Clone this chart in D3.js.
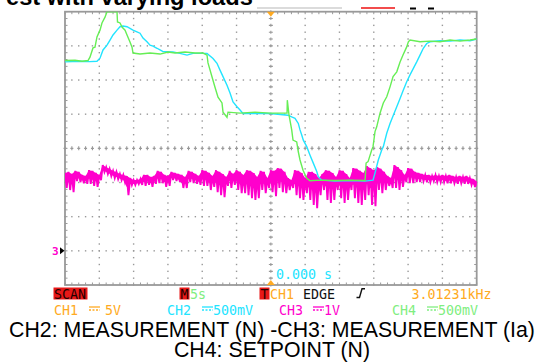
<!DOCTYPE html>
<html>
<head>
<meta charset="utf-8">
<script src="https://cdn.jsdelivr.net/npm/d3@7"></script>
<style>
  body { margin: 0; background: #fff; }
  svg { display: block; }
</style>
</head>
<body>
<svg id="svg" width="537" height="362"></svg>
<script>
// screen is 12 x 8 divisions, 5 s / div, trigger at centre
var timeDomain = [-30, 30];
var divDomain = [-4, 4];

// CH4 setpoint (green), time in s, level in divisions
var ch4Time = [-30, -28.54, -27.52, -26.65, -26.36, -25.92, -25.63, -25.34, -24.9, -24.61, -24.17, -23.88,
  -22.42, -22.35, -21.98, -21.69, -21.25, -20.96, -20.53, -20.23, -20.09, -19.07, -17.61, -16.15, -14.99,
  -13.97, -12.51, -11.05, -9.89, -9.3, -9.16, -8.57, -8.14, -7.7, -7.12, -6.97, -6.39, -6.24, -4.49, -2.31,
  -0.12, 2.36, 2.4, 2.65, 3.04, 3.23, 3.77, 4.0, 4.25, 4.69, 5.23, 5.71, 7.17, 9.35, 11.54, 13.73, 13.88,
  14.17, 14.7, 14.89, 15.18, 15.43, 15.91, 16.39, 16.89, 17.37, 17.81, 18.35, 18.83, 19.26, 19.8, 20.04,
  20.28, 21.74, 23.2, 24.66, 26.11, 27.57, 29.03, 30];
var ch4Level = [2.57, 2.58, 2.55, 2.57, 2.67, 2.94, 2.96, 3.26, 3.46, 3.67, 3.84, 4.0,
  4.0, 3.7, 3.67, 3.55, 3.46, 3.32, 3.11, 2.96, 2.79, 2.76, 2.79, 2.76, 2.82,
  2.79, 2.82, 2.79, 2.79, 2.73, 2.5, 2.09, 1.79, 1.5, 1.33, 1.06, 0.91, 1.06, 1.03, 1.06,
  1.03, 1.03, 1.41, 0.97, 0.54, 0.24, 0.19, -0.1, -0.34, -0.64, -0.88, -0.95, -0.93, -0.94, -0.93, -0.94, -0.43,
  -0.39, -0.05, 0.05, 0.49, 0.63, 1.03, 1.33, 1.51, 1.8, 2.1, 2.24, 2.53, 2.73, 2.97, 3.12,
  3.17, 3.12, 3.14, 3.12, 3.17, 3.14, 3.17, 3.2];

// CH2 measured speed (cyan)
var ch2Time = [-30, -27.81, -26.36, -25.34, -24.9, -24.46, -23.88, -23.44, -23.0, -22.42, -21.98, -21.55,
  -20.96, -20.53, -20.09, -19.51, -19.07, -18.63, -18.05, -17.61, -17.17, -16.59, -16.15, -15.72, -15.13,
  -14.26, -13.24, -12.22, -11.34, -10.32, -9.3, -8.43, -7.85, -7.41, -6.97, -6.39, -5.95, -5.51, -4.93,
  -4.49, -4.06, -2.31, -0.12, 2.5, 3.04, 3.52, 4.0, 4.25, 4.5, 4.73, 5.23, 5.71, 6.2, 6.69, 6.92, 7.41,
  9.35, 11.54, 13.73, 14.89, 15.18, 15.66, 16.16, 16.39, 16.89, 17.37, 17.85, 18.35, 18.83, 19.31, 19.8,
  20.28, 20.77, 21.26, 21.74, 22.22, 22.72, 23.2, 24.66, 26.11, 27.57, 29.03, 30];
var ch2Level = [2.53, 2.55, 2.54, 2.55, 2.64, 2.88, 3.02, 3.17, 3.32, 3.46, 3.56, 3.58,
  3.56, 3.51, 3.46, 3.41, 3.37, 3.23, 3.12, 3.02, 2.99, 2.93, 2.88, 2.83, 2.83,
  2.82, 2.78, 2.73, 2.78, 2.78, 2.78, 2.63, 2.49, 2.29, 2.1, 1.85, 1.62, 1.36, 1.22,
  1.12, 1.02, 1.02, 1.02, 0.97, 0.92, 0.88, 0.73, 0.54, 0.39, 0.24, 0.05, -0.2, -0.44, -0.68, -0.83, -0.93,
  -0.96, -0.94, -0.96, -0.93, -0.72, -0.34, -0.05, 0.05, 0.44, 0.73, 0.97, 1.22, 1.46, 1.71, 1.95,
  2.15, 2.34, 2.53, 2.73, 2.93, 3.07, 3.12, 3.15, 3.14, 3.17, 3.15, 3.2];

// CH3 measured current (magenta), band top / bottom every 0.5 s from -30 s
var ch3Start = -30, ch3Step = 0.5;
var ch3High = [-0.72, -0.69, -0.75, -0.66, -0.69, -0.78, -0.81, -0.64, -0.66, -0.72, -0.78, -0.49, -0.55,
  -0.60, -0.66, -0.69, -0.75, -0.78, -0.81, -0.87, -0.93, -0.93, -0.90, -0.78, -0.78, -0.84, -0.81, -0.66,
  -0.69, -0.78, -0.81, -0.69, -0.72, -0.75, -0.78, -0.84, -0.66, -0.69, -0.75, -0.81, -0.64, -0.66, -0.72,
  -0.81, -0.64, -0.69, -0.75, -0.84, -0.66, -0.75, -0.64, -0.69, -0.78, -0.64, -0.66, -0.72, -0.84, -0.66,
  -0.69, -0.87, -0.64, -0.66, -0.58, -0.60, -0.69, -0.87, -0.93, -0.64, -0.66, -0.72, -0.87, -0.69, -0.69,
  -0.75, -0.87, -0.75, -0.64, -0.66, -0.72, -0.84, -0.64, -0.66, -0.75, -0.87, -0.58, -0.60, -0.66, -0.72,
  -0.52, -0.58, -0.64, -0.55, -0.60, -0.69, -0.81, -0.87, -0.49, -0.55, -0.64, -0.78, -0.58, -0.60, -0.69,
  -0.72, -0.75, -0.78, -0.78, -0.81, -0.78, -0.81, -0.78, -0.81, -0.78, -0.81, -0.84, -0.81, -0.84, -0.81,
  -0.87, -0.90, -0.96];
var ch3Low = [-1.16, -1.22, -1.28, -0.96, -0.99, -1.02, -1.04, -1.04, -1.10, -1.13, -0.93, -0.69, -0.75,
  -0.81, -0.87, -0.90, -0.93, -0.99, -1.37, -1.07, -1.07, -1.04, -1.07, -1.10, -1.07, -1.13, -1.04, -1.02,
  -1.02, -1.13, -1.10, -0.93, -0.96, -0.99, -1.16, -1.16, -0.99, -1.02, -1.04, -1.07, -1.10, -1.10, -1.22,
  -1.13, -1.28, -1.37, -1.43, -1.10, -1.16, -1.07, -1.22, -1.31, -1.31, -1.37, -1.46, -1.51, -1.46, -1.22,
  -1.31, -1.16, -1.28, -1.40, -1.16, -1.28, -1.31, -1.22, -1.16, -1.37, -1.46, -1.51, -1.31, -1.51, -1.66,
  -1.75, -1.37, -1.22, -1.51, -1.60, -1.51, -1.22, -1.46, -1.60, -1.51, -1.22, -1.46, -1.60, -1.66, -1.51,
  -1.37, -1.66, -1.69, -1.22, -1.31, -1.22, -1.10, -1.16, -1.16, -1.22, -1.13, -0.99, -1.02, -1.02, -0.99,
  -0.99, -0.96, -0.99, -0.99, -0.96, -0.99, -0.99, -0.99, -1.02, -1.02, -1.02, -1.04, -1.02, -1.04, -1.04,
  -1.07, -1.13, -1.19];

var titleText = 'est with varying loads';
var captionLines = ['CH2: MEASUREMENT (N) -CH3: MEASUREMENT (Ia)', 'CH4: SETPOINT (N)'];
var statusRow = ['SCAN', 'M', '5s', 'T', 'CH1', 'EDGE', '3.01231kHz'];
var channelRow = [['CH1', '5V'], ['CH2', '500mV'], ['CH3', '1V'], ['CH4', '500mV']];
var triggerTime = '0.000 s';

var svg = d3.select('#svg');
var frame = { left: 65, right: 476.7, top: 11.7, bottom: 285 };

var xScale = d3.scaleLinear().domain(timeDomain).range([frame.left, frame.right]);
var yScale = d3.scaleLinear().domain(divDomain).range([frame.bottom, frame.top]);

var gridColor = '#999';
var orange = '#ffaa22', cyan = '#22e4ff', magenta = '#ff00cc', green = '#66ee55', lightGreen = '#80ee80';

// title, cut off at the top of the picture
var title = svg.append('text')
  .attr('x', 6).attr('y', 4.5)
  .style('font-family', 'Liberation Sans, Arial, sans-serif')
  .style('font-weight', 'bold')
  .style('font-size', '23px')
  .attr('fill', '#000')
  .text(titleText);
var tw = title.node().getComputedTextLength();
title.style('font-size', (23 * 247 / tw) + 'px');

// bits of a legend peeking in at the top
svg.append('line').attr('x1', 257).attr('x2', 342).attr('y1', 8).attr('y2', 8)
  .attr('stroke', '#cfcfcf').attr('stroke-width', 1.5);
svg.append('line').attr('x1', 361).attr('x2', 395).attr('y1', 8).attr('y2', 8)
  .attr('stroke', '#ee1111').attr('stroke-width', 1.5);
[410, 428].forEach(function (x0) {
  svg.append('line').attr('x1', x0).attr('x2', x0 + 6).attr('y1', 8.5).attr('y2', 8.5)
    .attr('stroke', '#000').attr('stroke-width', 2);
});

var grid = svg.append('g');

// dotted grid lines
var vLines = d3.range(-25, 30, 5).filter(function (t) { return t !== 0; });
var hLines = d3.range(-3, 4, 1).filter(function (d) { return d !== 0; });
var subY = d3.range(-4, 4.01, 0.2);
var subX = d3.range(-30, 30.01, 1);

vLines.forEach(function (t) {
  grid.selectAll(null).data(subY).enter().append('rect')
    .attr('x', xScale(t) - 0.7).attr('y', function (d) { return yScale(d) - 0.7; })
    .attr('width', 1.4).attr('height', 1.4).attr('fill', gridColor);
});
hLines.forEach(function (v) {
  grid.selectAll(null).data(subX).enter().append('rect')
    .attr('x', function (d) { return xScale(d) - 0.7; }).attr('y', yScale(v) - 0.7)
    .attr('width', 1.4).attr('height', 1.4).attr('fill', gridColor);
});

// centre axes with small crosses
grid.selectAll(null).data(subX).enter().append('path')
  .attr('d', function (d) {
    var cx = xScale(d), cy = yScale(0);
    return 'M' + (cx - 1.5) + ',' + cy + 'H' + (cx + 1.5) + 'M' + cx + ',' + (cy - 2) + 'V' + (cy + 2);
  })
  .attr('stroke', gridColor).attr('stroke-width', 1.1);
grid.selectAll(null).data(subY).enter().append('path')
  .attr('d', function (d) {
    var cx = xScale(0), cy = yScale(d);
    return 'M' + (cx - 2) + ',' + cy + 'H' + (cx + 2) + 'M' + cx + ',' + (cy - 1.5) + 'V' + (cy + 1.5);
  })
  .attr('stroke', gridColor).attr('stroke-width', 1.1);

// border with ticks
grid.selectAll(null).data(subX).enter().append('path')
  .attr('d', function (d) {
    var cx = xScale(d);
    return 'M' + cx + ',' + frame.top + 'V' + (frame.top + 2.5) + 'M' + cx + ',' + frame.bottom + 'V' + (frame.bottom - 2.5);
  })
  .attr('stroke', gridColor).attr('stroke-width', 1);
grid.selectAll(null).data(subY).enter().append('path')
  .attr('d', function (d) {
    var cy = yScale(d);
    return 'M' + frame.left + ',' + cy + 'H' + (frame.left + 2.5) + 'M' + frame.right + ',' + cy + 'H' + (frame.right - 2.5);
  })
  .attr('stroke', gridColor).attr('stroke-width', 1);
grid.append('rect')
  .attr('x', frame.left).attr('y', frame.top)
  .attr('width', frame.right - frame.left).attr('height', frame.bottom - frame.top)
  .attr('fill', 'none').attr('stroke', '#999').attr('stroke-width', 1.8);

// traces
svg.append('clipPath').attr('id', 'clip').append('rect')
  .attr('x', frame.left).attr('y', frame.top)
  .attr('width', frame.right - frame.left).attr('height', frame.bottom - frame.top);
var traces = svg.append('g').attr('clip-path', 'url(#clip)');

// CH3: zigzag between band top and bottom, like a peak-detect trace
var ch3Points = [];
ch3High.forEach(function (h, i) {
  var t = ch3Start + i * ch3Step;
  ch3Points.push([t, h]);
  if (i < ch3High.length - 1) ch3Points.push([t + ch3Step / 2, ch3Low[i]]);
});
var line = d3.line()
  .x(function (d) { return xScale(d[0]); })
  .y(function (d) { return yScale(d[1]); });
traces.append('path').datum(ch3Points)
  .attr('d', line).attr('fill', 'none').attr('stroke', magenta).attr('stroke-width', 1.9);
// and a filled core
var ch3Core = ch3High.map(function (h, i) { return { t: ch3Start + i * ch3Step, hi: h, lo: ch3Low[i] }; });
traces.append('path').datum(ch3Core)
  .attr('d', d3.area()
    .x(function (d) { return xScale(d.t); })
    .y0(function (d) { return yScale((d.hi + d.lo) / 2 - 0.04); })
    .y1(function (d) { return yScale(d.hi); }))
  .attr('fill', magenta);

traces.append('path').datum(d3.zip(ch2Time, ch2Level))
  .attr('d', line).attr('fill', 'none').attr('stroke', cyan).attr('stroke-width', 1.4);
traces.append('path').datum(d3.zip(ch4Time, ch4Level))
  .attr('d', line).attr('fill', 'none').attr('stroke', green).attr('stroke-width', 1.4);

// trigger markers
var tx = xScale(0);
svg.append('path')
  .attr('d', 'M' + (tx - 4) + ',' + frame.top + 'H' + (tx + 4) + 'L' + tx + ',' + (frame.top + 5) + 'Z')
  .attr('fill', orange);
svg.append('path')
  .attr('d', 'M' + (tx - 4) + ',' + frame.bottom + 'H' + (tx + 4) + 'L' + tx + ',' + (frame.bottom - 5) + 'Z')
  .attr('fill', orange);

// CH3 ground marker
var gy = yScale(-3);
svg.append('text').attr('x', 52).attr('y', gy + 4.5)
  .style('font-family', 'DejaVu Sans Mono, monospace').style('font-size', '11px').style('font-weight', 'bold')
  .attr('fill', magenta).text('3');
svg.append('path')
  .attr('d', 'M60,' + (gy - 3.5) + 'L64.5,' + gy + 'L60,' + (gy + 3.5) + 'Z')
  .attr('fill', '#000');

var mono = 'DejaVu Sans Mono, monospace';
function scopeText(x, y, txt, color) {
  return svg.append('text').attr('x', x).attr('y', y)
    .style('font-family', mono).style('font-size', '13.3px')
    .attr('fill', color).text(txt);
}

scopeText(276, 279, triggerTime, cyan);

// status row
var row1 = 298.5, row2 = 314.5;
var red = '#e81818';
svg.append('rect').attr('x', 53.5).attr('y', 287.5).attr('width', 34).attr('height', 12).attr('fill', red);
svg.append('rect').attr('x', 179.5).attr('y', 287.5).attr('width', 10).attr('height', 12).attr('fill', red);
svg.append('rect').attr('x', 259.5).attr('y', 287.5).attr('width', 10).attr('height', 12).attr('fill', red);
scopeText(54, row1, statusRow[0], '#220000');
scopeText(180.5, row1, statusRow[1], '#220000');
scopeText(190, row1, statusRow[2], lightGreen);
scopeText(260.5, row1, statusRow[3], '#220000');
scopeText(270, row1, statusRow[4], orange);
scopeText(303, row1, statusRow[5], '#111');
svg.append('path').attr('d', 'M356.5,297.5H359.5L362,288.8H365')
  .attr('fill', 'none').attr('stroke', '#111').attr('stroke-width', 1.4);
scopeText(411.5, row1, statusRow[6], orange);

// channel row
var chColors = [orange, cyan, magenta, lightGreen];
var chX = [54, 167, 279, 392];
var symX = [89, 202, 313, 427];
var valX = [105, 213, 324, 438];
channelRow.forEach(function (c, i) {
  scopeText(chX[i], row2, c[0], chColors[i]);
  svg.append('line').attr('x1', symX[i]).attr('x2', symX[i] + 11).attr('y1', 307).attr('y2', 307)
    .attr('stroke', chColors[i]).attr('stroke-width', 1.3);
  svg.append('line').attr('x1', symX[i]).attr('x2', symX[i] + 11).attr('y1', 310).attr('y2', 310)
    .attr('stroke', chColors[i]).attr('stroke-width', 1.3).attr('stroke-dasharray', '2,1.5');
  scopeText(valX[i], row2, c[1], chColors[i]);
});

// caption below the screen
svg.selectAll('.caption').data(captionLines).enter().append('text')
  .attr('class', 'caption')
  .attr('x', 272).attr('y', function (d, i) { return 337 + i * 19.5; })
  .attr('text-anchor', 'middle')
  .style('font-family', 'Liberation Sans, Arial, sans-serif')
  .style('font-size', '21.3px')
  .attr('fill', '#000')
  .text(function (d) { return d; });
</script>
</body>
</html>
